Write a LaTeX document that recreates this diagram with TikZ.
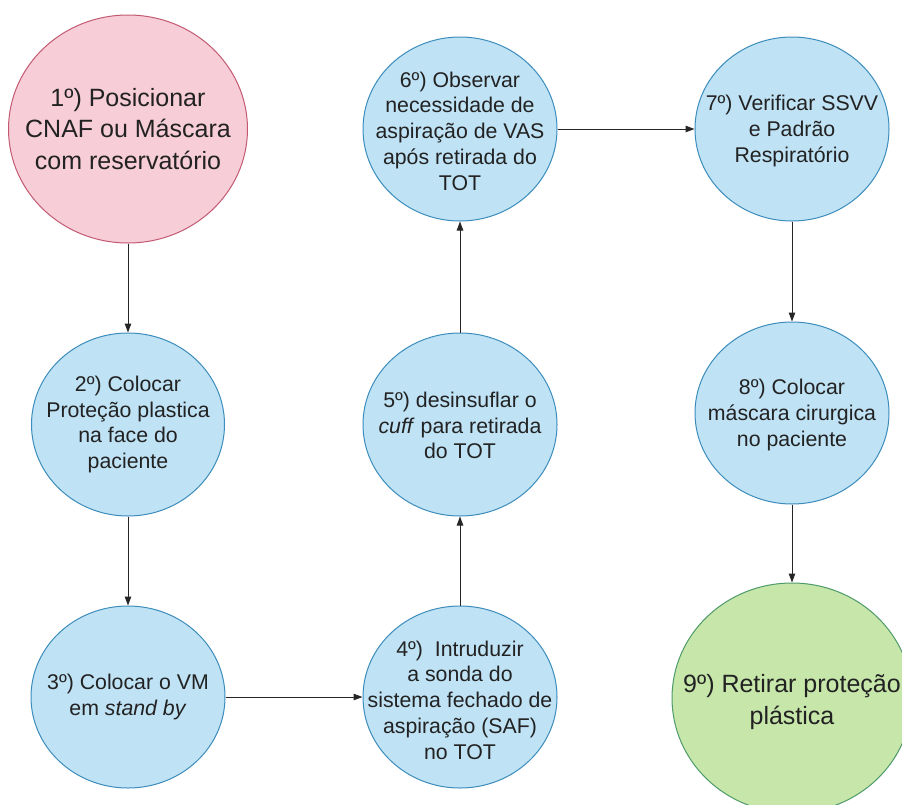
\documentclass[tikz,border=0pt]{standalone}
\usepackage{fontspec}
\setmainfont{Liberation Sans}
\usetikzlibrary{shapes.geometric,arrows.meta}
\definecolor{pinkfill}{HTML}{F7CDD8}
\definecolor{pinkline}{HTML}{C25B72}
\definecolor{bluefill}{HTML}{BFE2F5}
\definecolor{blueline}{HTML}{3C8DBC}
\definecolor{greenfill}{HTML}{C6E6AA}
\definecolor{greenline}{HTML}{4E9A6A}
\definecolor{inkgray}{HTML}{222222}
\tikzset{
  disc/.style={ellipse, draw, line width=1pt, inner sep=0pt},
  bluedisc/.style={disc, fill=bluefill, draw=blueline, minimum width=194pt, minimum height=184pt},
  pinkdisc/.style={disc, fill=pinkfill, draw=pinkline, minimum width=239pt, minimum height=228pt},
  greendisc/.style={disc, fill=greenfill, draw=greenline, minimum width=240pt, minimum height=230pt},
  smalltext/.style={align=center, text=inkgray, font=\fontsize{21.3}{25.8}\selectfont},
  bigtext/.style={align=center, text=inkgray, font=\fontsize{25}{31.5}\selectfont},
  flow/.style={draw=black!85, line width=1pt, -{Triangle[length=9pt,width=6.5pt]}}
}
\begin{document}
\begin{tikzpicture}[x=1pt,y=-1pt]
\useasboundingbox (0,0) rectangle (902,804);
\clip (0,0) rectangle (902,804);
\fill[white] (0,0) rectangle (902,804);

% circles
\node[pinkdisc]  (n1) at (128,129) {};
\node[bluedisc, minimum width=193pt, minimum height=183pt] (n2) at (128,424.5) {};
\node[bluedisc, minimum height=182pt] (n3) at (128,697) {};
\node[bluedisc, minimum height=182pt] (n4) at (460,697) {};
\node[bluedisc, minimum height=183pt] (n5) at (460,424.5) {};
\node[bluedisc]  (n6) at (460,129) {};
\node[bluedisc]  (n7) at (792,129) {};
\node[bluedisc, minimum height=182pt] (n8) at (792,413) {};
\node[greendisc] (n9) at (792,698) {};

% texts
\node[bigtext]   (t1) at (n1) {1º) Posicionar\\CNAF ou Máscara\\com reservatório};
\node[smalltext] (t2) at (n2) {2º) Colocar\\Proteção plastica\\na face do\\paciente};
\node[smalltext] (t3) at (n3) {3º) Colocar o VM\\em \textit{stand by}};
\node[smalltext] (t4) at ([yshift=-3pt]n4) {4º)\ \ Intruduzir\\a sonda do\\sistema fechado de\\aspiração (SAF)\\no TOT};
\node[smalltext] (t5) at ([yshift=-1pt]n5) {5º) desinsuflar o\\\textit{cuff} para retirada\\do TOT};
\node[smalltext] (t6) at ([yshift=-2pt]n6) {6º) Observar\\necessidade de\\aspiração de VAS\\após retirada do\\TOT};
\node[smalltext] (t7) at ([yshift=-2pt]n7) {7º) Verificar SSVV\\e Padrão\\Respiratório};
\node[smalltext] (t8) at ([yshift=-2pt]n8) {8º) Colocar\\máscara cirurgica\\no paciente};
\node[bigtext]   (t9) at ([yshift=-4pt]n9) {9º) Retirar proteção\\plástica};

% connectors
\draw[flow] (n1.south) -- (n2.north);
\draw[flow] (n2.south) -- (n3.north);
\draw[flow] (n3.east) -- (n4.west);
\draw[flow] (n4.north) -- (n5.south);
\draw[flow] (n5.north) -- (n6.south);
\draw[flow] (n6.east) -- (n7.west);
\draw[flow] (n7.south) -- (n8.north);
\draw[flow] (n8.south) -- (n9.north);
\end{tikzpicture}
\end{document}
